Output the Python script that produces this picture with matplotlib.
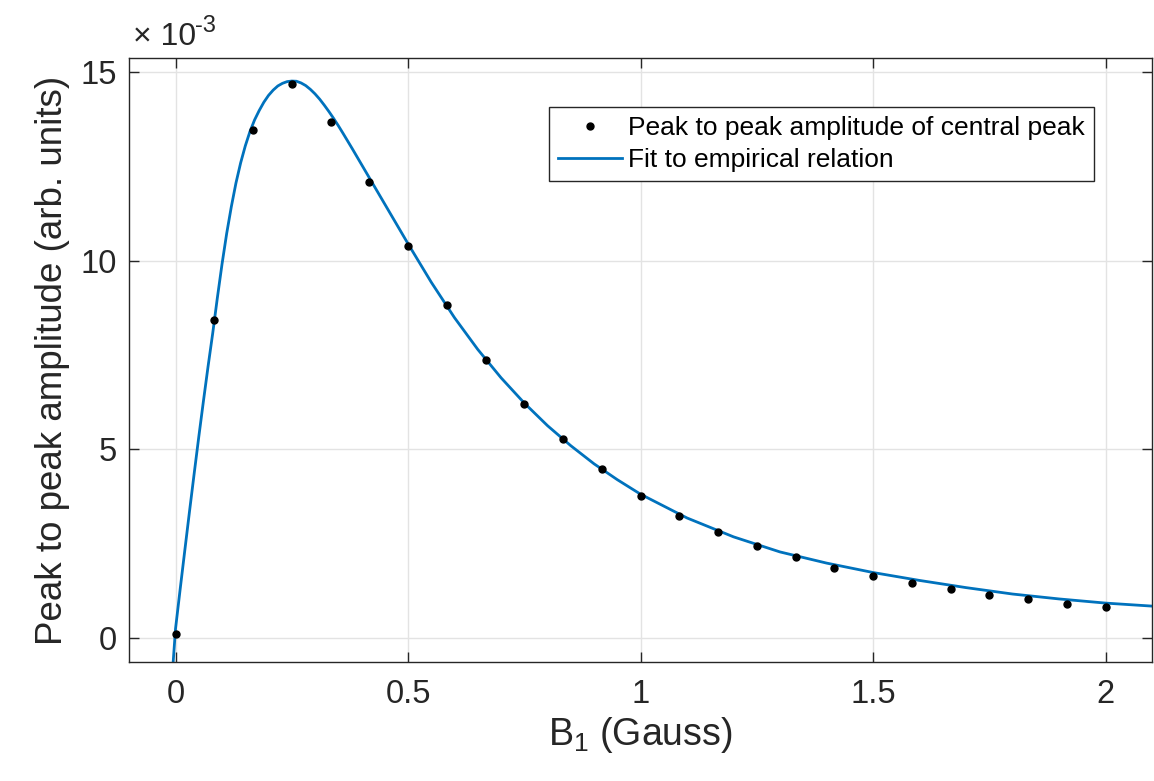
import matplotlib.pyplot as plt

plt.rcParams['font.family'] = ['Liberation Sans', 'DejaVu Sans']
plt.rcParams['mathtext.fontset'] = 'custom'
plt.rcParams['mathtext.rm'] = 'Liberation Sans'
plt.rcParams['mathtext.it'] = 'Liberation Sans'

# measured points (amplitude in units of 1e-3)
b1_meas = [0, 1/12, 2/12, 3/12, 4/12, 5/12, 6/12, 7/12, 8/12, 9/12, 10/12, 11/12, 1.0,
           13/12, 14/12, 15/12, 16/12, 17/12, 18/12, 19/12, 20/12, 21/12, 22/12, 23/12, 2.0]
amp_meas = [0.10, 8.43, 13.46, 14.68, 13.67, 12.08, 10.40, 8.83, 7.38, 6.20, 5.27, 4.48, 3.78,
            3.25, 2.81, 2.45, 2.15, 1.87, 1.65, 1.46, 1.30, 1.15, 1.03, 0.91, 0.82]

# fitted curve
b1_fit = [-0.006, 0.0, 0.01, 0.02, 0.03, 0.04, 0.05, 0.06, 0.07, 0.08, 0.09,
          0.10, 0.11, 0.12, 0.13, 0.14, 0.15, 0.16, 0.17, 0.18, 0.19,
          0.20, 0.21, 0.22, 0.23, 0.24, 0.25, 0.26, 0.27, 0.28, 0.29,
          0.30, 0.31, 0.32, 0.33, 0.34, 0.35, 0.36, 0.38, 0.40, 0.42,
          0.45, 0.50, 0.55, 0.60, 0.65, 0.70, 0.75, 0.80, 0.85, 0.90,
          0.95, 1.0, 1.1, 1.2, 1.3, 1.4, 1.5, 1.6, 1.7, 1.8,
          1.9, 2.0, 2.1]
amp_fit = [-0.80, 0.25, 1.30, 2.33, 3.35, 4.35, 5.33, 6.28, 7.20, 8.08, 9.02,
           9.91, 10.72, 11.43, 12.06, 12.59, 13.04, 13.42, 13.73, 13.98, 14.20,
           14.38, 14.52, 14.63, 14.70, 14.745, 14.76, 14.755, 14.71, 14.64, 14.54,
           14.42, 14.28, 14.12, 13.95, 13.77, 13.58, 13.38, 12.97, 12.55, 12.13,
           11.50, 10.45, 9.43, 8.49, 7.65, 6.90, 6.23, 5.63, 5.10, 4.62,
           4.20, 3.815, 3.185, 2.685, 2.285, 1.99, 1.74, 1.53, 1.34, 1.17,
           1.04, 0.93, 0.85]

xticks = [0, 0.5, 1, 1.5, 2]
xticklabels = ['0', '0.5', '1', '1.5', '2']
yticks = [0, 5, 10, 15]

fig = plt.figure(figsize=(11.54, 7.81), dpi=100)
ax = fig.add_axes([0.1118, 0.1524, 0.8865, 0.7733])

ax.plot(b1_meas, amp_meas, 'o', color='black', markersize=5, zorder=3,
        label='Peak to peak amplitude of central peak')
ax.plot(b1_fit, amp_fit, '-', color='#0072BD', linewidth=2.0, zorder=2,
        label='Fit to empirical relation')

ax.set_xlim(-0.1, 2.1)
ax.set_ylim(-0.63, 15.37)
ax.set_xticks(xticks)
ax.set_xticklabels(xticklabels)
ax.set_yticks(yticks)

ax.grid(True, color='#e3e3e3', linewidth=1.0)
ax.set_axisbelow(True)
ax.tick_params(direction='in', length=7, width=1, top=True, right=True,
               labelsize=23.5, colors='#262626')
ax.tick_params(axis='x', pad=12)
ax.tick_params(axis='y', pad=9)
for sp in ax.spines.values():
    sp.set_color('#262626')
    sp.set_linewidth(1.0)

ax.set_xlabel('B$_{1}$ (Gauss)', fontsize=27, color='#262626', labelpad=4)
ax.set_ylabel('Peak to peak amplitude (arb. units)', fontsize=26.5, color='#262626', labelpad=7)

# exponent label like MATLAB's
ax.text(0.004, 1.0215, '\u00d7 10', transform=ax.transAxes, fontsize=23,
        color='#262626', ha='left', va='baseline')
ax.text(0.0645, 1.043, '-3', transform=ax.transAxes, fontsize=17,
        color='#262626', ha='left', va='baseline')

leg = ax.legend(loc='upper left', bbox_to_anchor=(0.4106, 0.919), borderaxespad=0,
                fontsize=19, fancybox=False, framealpha=1, edgecolor='#262626',
                handlelength=2.4, handletextpad=0.25, borderpad=0.35, labelspacing=0.3)
leg.get_frame().set_linewidth(1.0)

fig.savefig('out.png', dpi=100)
